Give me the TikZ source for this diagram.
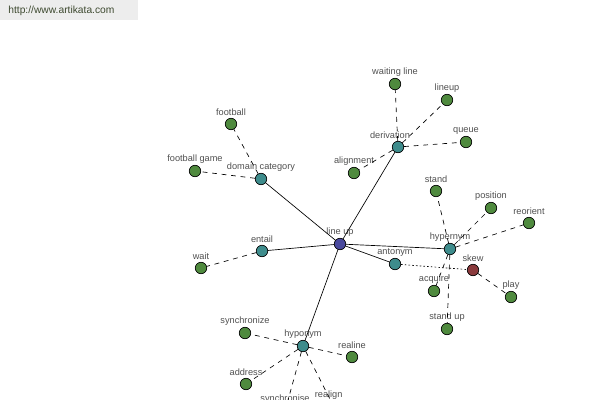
\documentclass[tikz,border=0pt]{standalone}
\usepackage{fontspec}
\setmainfont{Liberation Sans}
\definecolor{leafgreen}{HTML}{4F8A3E}
\definecolor{relteal}{HTML}{3E8C8C}
\definecolor{hubblue}{HTML}{4A4A9E}
\definecolor{oddred}{HTML}{8A3A3C}
\definecolor{labelgrey}{HTML}{505050}
\definecolor{markgrey}{HTML}{EDEDED}
\definecolor{marktext}{HTML}{3E4A30}

\begin{document}
\begin{tikzpicture}[x=0.75pt,y=-0.75pt,line width=0.5pt,
    word/.style={circle,draw,inner sep=0pt,minimum size=8.6pt,fill=leafgreen},
    rel/.style={word,fill=relteal},
    hub/.style={word,fill=hubblue},
    odd/.style={word,fill=oddred},
    lbl/.style={font=\fontsize{6.9}{8}\selectfont,text=labelgrey,inner sep=0pt},
    every label/.style={lbl},
    label distance=1.2pt,
    sense/.style={dash pattern=on 3.6pt off 3.6pt},
    opposite/.style={dash pattern=on 1.2pt off 1.6pt}]

  \clip (0,0) rectangle (600,400);
  \fill[white] (0,0) rectangle (600,400);
  \fill[markgrey] (0,0) rectangle (138,20);
  \node[font=\fontsize{7.7}{9}\selectfont,text=marktext,inner sep=0pt,anchor=west] (mark) at (8,11) {http://www.artikata.com};

  % centre and relations
  \node[hub] (lineup) at (340,244) [label=above:line up] {};
  \node[rel] (domain) at (261,179) [label=above:domain category] {};
  \node[rel] (deriv) at (398,147) [label={[xshift=-6pt]above:derivation}] {};
  \node[rel] (entail) at (262,251) [label=above:entail] {};
  \node[rel] (hyper) at (450,249) [label=above:hypernym] {};
  \node[rel] (anto) at (395,264) [label=above:antonym] {};
  \node[rel] (hypo) at (303,346) [label=above:hyponym] {};

  % words
  \node[word] (football) at (231,124) [label=above:football] {};
  \node[word] (fgame) at (195,171) [label=above:football game] {};
  \node[word] (waiting) at (395,84) [label=above:waiting line] {};
  \node[word] (lineupw) at (447,100) [label=above:lineup] {};
  \node[word] (queue) at (466,142) [label=above:queue] {};
  \node[word] (align) at (354,173) [label=above:alignment] {};
  \node[word] (stand) at (436,191) [label=above:stand] {};
  \node[word] (position) at (491,208) [label=above:position] {};
  \node[word] (reorient) at (529,223) [label=above:reorient] {};
  \node[odd] (skew) at (473,270) [label=above:skew] {};
  \node[word] (play) at (511,297) [label=above:play] {};
  \node[word] (acquire) at (434,291) [label=above:acquire] {};
  \node[word] (standup) at (447,329) [label=above:stand up] {};
  \node[word] (wait) at (201,268) [label=above:wait] {};
  \node[word] (synchz) at (245,333) [label=above:synchronize] {};
  \node[word] (realine) at (352,357) [label=above:realine] {};
  \node[word] (address) at (246,384) [label=above:address] {};
  \node[word] (synchs) at (285,411) [label=above:synchronise] {};
  \node[word] (realign) at (334,407) [label={[xshift=-4pt]above:realign}] {};

  \path
    (lineup) edge (domain)
             edge (deriv)
             edge (entail)
             edge (hyper)
             edge (anto)
             edge (hypo);

  \path[sense]
    (domain) edge (football)
             edge (fgame)
    (deriv) edge (waiting)
            edge (lineupw)
            edge (queue)
            edge (align)
    (entail) edge (wait)
    (hyper) edge (stand)
            edge (position)
            edge (reorient)
            edge (acquire)
            edge (standup)
    (skew) edge (play)
    (hypo) edge (synchz)
           edge (realine)
           edge (address)
           edge (synchs)
           edge (realign);

  \path[opposite]
    (anto) edge (skew);

\end{tikzpicture}
\end{document}
